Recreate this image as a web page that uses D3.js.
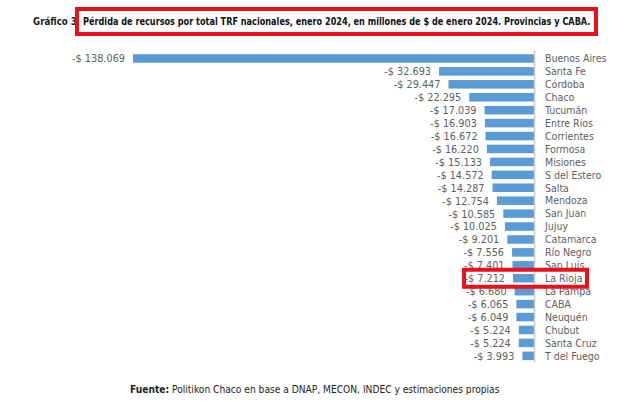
<!DOCTYPE html>
<html><head><meta charset="utf-8">
<script src="https://cdn.jsdelivr.net/npm/d3@7"></script>
<style>
body{margin:0;background:#fff;}
text{font-family:"Liberation Sans Narrow","DejaVu Sans Condensed","Roboto",sans-serif;}
</style></head>
<body><svg id="c" width="643" height="418"></svg>
<script>
const provinces = ["Buenos Aires","Santa Fe","Córdoba","Chaco","Tucumán","Entre Ríos","Corrientes","Formosa","Misiones","S del Estero","Salta","Mendoza","San Juan","Jujuy","Catamarca","Río Negro","San Luis","La Rioja","La Pampa","CABA","Neuquén","Chubut","Santa Cruz","T del Fuego"];
const losses = [138069,32693,29447,22295,17039,16903,16672,16220,15133,14572,14287,12754,10585,10025,9201,7556,7401,7212,6680,6065,6049,5224,5224,3993];
const highlighted = "La Rioja";
const titleLabel = "Gráfico 3";
const titleText = "Pérdida de recursos por total TRF nacionales, enero 2024, en millones de $ de enero 2024. Provincias y CABA.";
const sourceBold = "Fuente:";
const sourceText = " Politikon Chaco en base a DNAP, MECON, INDEC y estimaciones propias";

const svg = d3.select("#c");
const fmt = v => "-$ " + d3.format(",")(v).replace(/,/g, ".");
const axisX = 534;
const x = d3.scaleLinear().domain([0, d3.max(losses)]).range([axisX, 133]);
const y = d3.scaleBand().domain(provinces).range([52, 362.3]).paddingInner(0.34).paddingOuter(0.17);
const data = provinces.map((p,i)=>({p, v: losses[i]}));

// fit a text to a target width by horizontal scaling around its start
function fitWidth(sel, x0, y0, target) {
  sel.attr("x", 0).attr("y", 0);
  const w = sel.node().getComputedTextLength();
  const s = w > 0 ? target / w : 1;
  sel.attr("transform", `translate(${x0},${y0}) scale(${s},1)`);
}

// bars
svg.selectAll("rect.bar").data(data).join("rect").attr("class","bar")
  .attr("x", d => x(d.v)).attr("width", d => axisX - x(d.v))
  .attr("y", d => y(d.p)).attr("height", y.bandwidth())
  .attr("fill", "#5b9bd5");

// axis line
svg.append("line").attr("x1", axisX+0.5).attr("x2", axisX+0.5)
  .attr("y1", y.range()[0]-2).attr("y2", y.range()[1]).attr("stroke", "#c8c8c8").attr("stroke-width", 1.5);

// value labels
svg.selectAll("text.val").data(data).join("text").attr("class","val")
  .attr("x", d => x(d.v) - 8).attr("y", d => y(d.p) + y.bandwidth()/2)
  .attr("dy", "0.36em").attr("text-anchor", "end")
  .attr("font-size", 10.8).attr("fill", "#606060").text(d => fmt(d.v));

// category labels
svg.selectAll("text.cat").data(data).join("text").attr("class","cat")
  .attr("x", axisX + 11).attr("y", d => y(d.p) + y.bandwidth()/2)
  .attr("dy", "0.36em").attr("font-size", 10.5).attr("fill", "#606060").text(d => d.p);

// highlight box
const hy = y(highlighted) + y.bandwidth()/2;
const hv = losses[provinces.indexOf(highlighted)];
svg.append("rect").attr("x", x(hv) - 49).attr("y", hy - 8.5).attr("width", 587 - (x(hv) - 49)).attr("height", 17)
  .attr("fill", "none").attr("stroke", "#e8111b").attr("stroke-width", 4);

// title
const t1 = svg.append("text").attr("font-size", 10.5).attr("font-weight", "bold")
  .attr("fill", "#222").text(titleLabel);
fitWidth(t1, 33, 25, 44);
svg.append("rect").attr("x", 77).attr("y", 9).attr("width", 519).attr("height", 25)
  .attr("fill", "none").attr("stroke", "#e8111b").attr("stroke-width", 4);
const t2 = svg.append("text").attr("font-size", 10.5).attr("font-weight", "bold")
  .attr("fill", "#111").text(titleText);
fitWidth(t2, 83, 25, 508);

// source
const src = svg.append("text").attr("font-size", 10.5).attr("fill", "#222");
src.append("tspan").attr("font-weight","bold").text(sourceBold);
src.append("tspan").text(sourceText);
fitWidth(src, 130, 393, 370);
</script></body></html>
